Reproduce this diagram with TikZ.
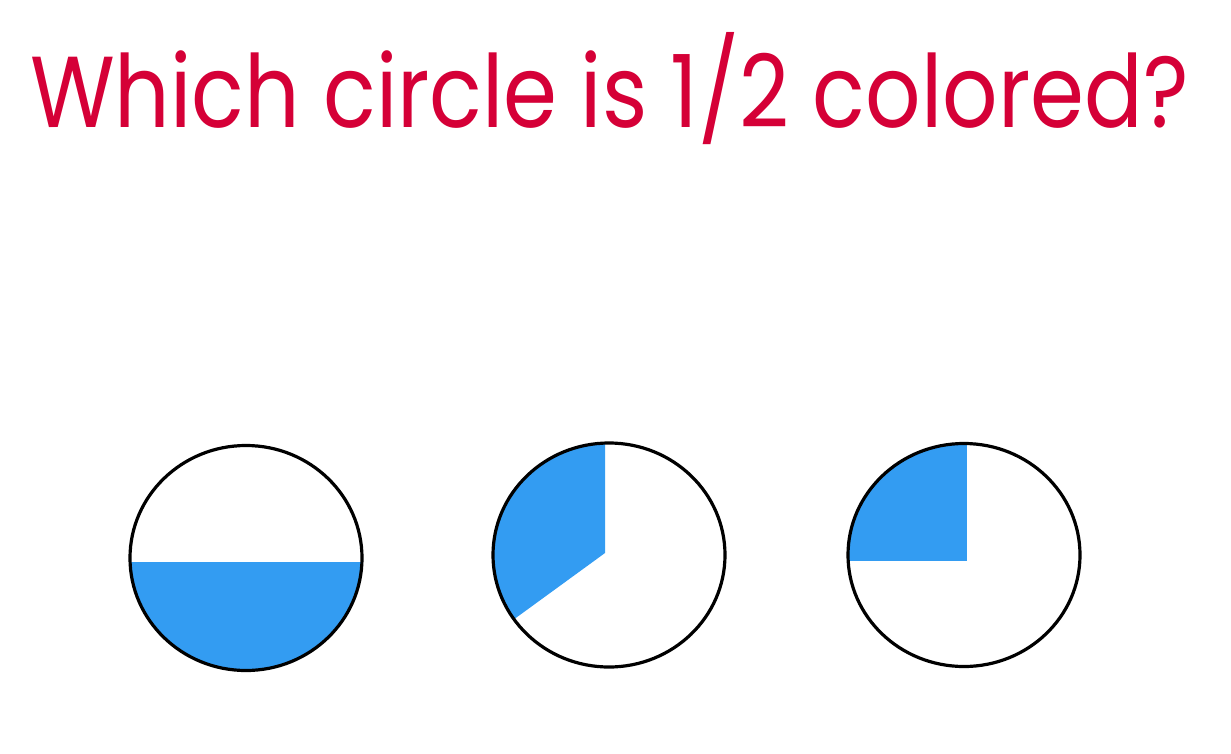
\documentclass[tikz,border=0pt]{standalone}
\usepackage{fontspec}
\newfontfamily\titlefont{Poppins}
\usetikzlibrary{shapes.geometric}
\definecolor{titlered}{HTML}{D50037}
\definecolor{fillblue}{HTML}{339CF2}
\tikzset{
  ring/.style={draw=black, line width=3.2pt},
  part/.style={fill=fillblue, draw=none},
}
\begin{document}
\begin{tikzpicture}[x=1pt,y=-1pt]
\useasboundingbox (0,0) rectangle (1231,753);
\node[anchor=base west, inner sep=0pt, text=titlered] (title) at (30,127)
  {\resizebox{1158pt}{95pt}{\titlefont Which circle is 1/2 colored?}};
% circle 1: half
\begin{scope}
  \clip (246,558) ellipse [x radius=116, y radius=112.5];
  \fill[part] (120,562) rectangle (372,680);
\end{scope}
\draw[ring] (246,558) ellipse [x radius=116, y radius=112.5];
% circle 2: about a third
\begin{scope}
  \clip (609,555) ellipse [x radius=116, y radius=112];
  \fill[part] (605,553) -- (605,430) -- (480,430) -- (480,644) -- cycle;
\end{scope}
\draw[ring] (609,555) ellipse [x radius=116, y radius=112];
% circle 3: a quarter
\begin{scope}
  \clip (964,555) ellipse [x radius=116, y radius=111.5];
  \fill[part] (840,430) rectangle (967,561);
\end{scope}
\draw[ring] (964,555) ellipse [x radius=116, y radius=111.5];
\end{tikzpicture}
\end{document}
